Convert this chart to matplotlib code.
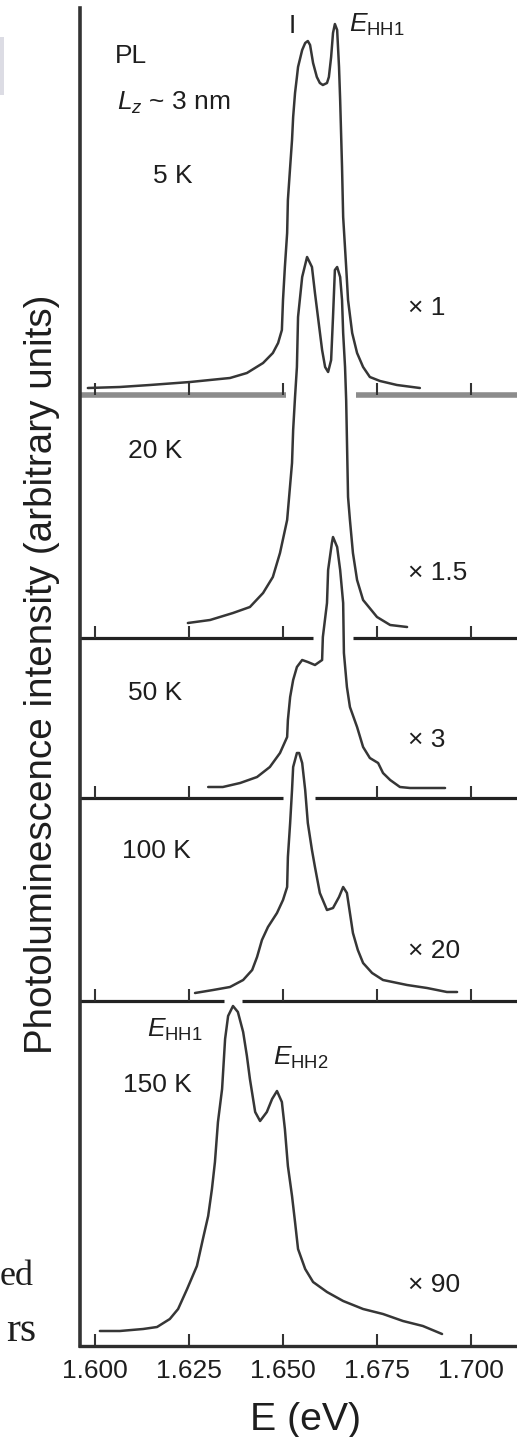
import numpy as np
import matplotlib
matplotlib.use("Agg")
import matplotlib.pyplot as plt
from matplotlib.patches import Rectangle

plt.rcParams['font.family'] = ['Liberation Sans', 'DejaVu Sans']
plt.rcParams['mathtext.fontset'] = 'custom'
plt.rcParams['mathtext.rm'] = 'Liberation Sans'
plt.rcParams['mathtext.it'] = 'Liberation Sans:italic'
plt.rcParams['mathtext.bf'] = 'Liberation Sans:bold'

# ---------------- data (photon energy in eV, PL intensity in arbitrary units) -------------
E_5K = [1.5981, 1.6066, 1.6146, 1.6253, 1.6332, 1.6359, 1.6404, 1.6447, 1.6473, 1.6487,
        1.6497, 1.6500, 1.6505, 1.6511, 1.6513, 1.6519, 1.6524, 1.6527, 1.6532, 1.6537,
        1.6540, 1.6551, 1.6559, 1.6566, 1.6572, 1.6580, 1.6590, 1.6598, 1.6606, 1.6617,
        1.6622, 1.6628, 1.6633, 1.6638, 1.6644, 1.6649, 1.6652, 1.6657, 1.6660, 1.6668,
        1.6673, 1.6684, 1.6697, 1.6713, 1.6731, 1.6758, 1.6803, 1.6864]
I_5K = [7, 8, 10, 13, 16, 17, 22, 32, 42, 52,
        65, 95, 128, 162, 195, 228, 255, 278, 302, 318,
        328, 345, 352, 354, 350, 332, 318, 312, 310, 312,
        318, 338, 362, 371, 365, 328, 295, 228, 178, 128,
        95, 62, 42, 28, 18, 14, 10, 7]

E_20K = [1.6247, 1.6306, 1.6367, 1.6412, 1.6447, 1.6473, 1.6492, 1.6511, 1.6524, 1.6527,
         1.6532, 1.6537, 1.6540, 1.6551, 1.6564, 1.6577, 1.6585, 1.6593, 1.6604, 1.6612,
         1.6620, 1.6628, 1.6633, 1.6638, 1.6644, 1.6652, 1.6657, 1.6660, 1.6665, 1.6668,
         1.6673, 1.6678, 1.6686, 1.6697, 1.6713, 1.6750, 1.6785, 1.6830]
I_20K = [15, 18, 25, 31, 45, 61, 85, 118, 175, 208,
         241, 271, 321, 361, 381, 371, 345, 321, 288, 271,
         266, 278, 321, 368, 371, 361, 338, 305, 271, 238,
         141, 118, 85, 58, 38, 21, 13, 11]

E_50K = [1.6301, 1.6340, 1.6386, 1.6431, 1.6465, 1.6492, 1.6511, 1.6513, 1.6519, 1.6527,
         1.6537, 1.6551, 1.6566, 1.6585, 1.6604, 1.6606, 1.6617, 1.6620, 1.6630, 1.6633,
         1.6644, 1.6652, 1.6660, 1.6662, 1.6670, 1.6678, 1.6697, 1.6713, 1.6731, 1.6753,
         1.6766, 1.6785, 1.6811, 1.6838, 1.6931]
I_50K = [11, 11, 15, 21, 31, 45, 61, 78, 101, 118,
         131, 138, 136, 133, 138, 161, 195, 228, 255, 261,
         251, 228, 195, 145, 111, 91, 71, 51, 40, 35,
         25, 18, 11, 10, 10]

E_100K = [1.6266, 1.6314, 1.6359, 1.6394, 1.6418, 1.6431, 1.6444, 1.6460, 1.6484, 1.6500,
          1.6511, 1.6513, 1.6519, 1.6524, 1.6527, 1.6537, 1.6543, 1.6551, 1.6559, 1.6566,
          1.6577, 1.6585, 1.6598, 1.6617, 1.6633, 1.6649, 1.6660, 1.6670, 1.6678, 1.6686,
          1.6699, 1.6713, 1.6737, 1.6766, 1.6830, 1.6883, 1.6936, 1.6963]
I_100K = [8, 11, 14, 21, 31, 44, 61, 74, 88, 101,
          114, 144, 178, 211, 234, 248, 248, 238, 211, 178,
          151, 134, 108, 91, 93, 104, 114, 108, 88, 68,
          51, 38, 28, 21, 16, 13, 9, 9]

E_150K = [1.6013, 1.6066, 1.6128, 1.6165, 1.6199, 1.6221, 1.6245, 1.6271, 1.6287, 1.6301,
          1.6311, 1.6319, 1.6327, 1.6338, 1.6346, 1.6354, 1.6367, 1.6380, 1.6394, 1.6404,
          1.6412, 1.6426, 1.6439, 1.6457, 1.6471, 1.6484, 1.6497, 1.6505, 1.6513, 1.6524,
          1.6532, 1.6540, 1.6559, 1.6580, 1.6617, 1.6660, 1.6713, 1.6766, 1.6819, 1.6872,
          1.6923]
I_150K = [15, 15, 17, 19, 27, 37, 57, 80, 107, 130,
          157, 184, 224, 257, 307, 330, 340, 334, 314, 290,
          267, 234, 225, 234, 247, 255, 244, 217, 180, 150,
          124, 97, 77, 64, 54, 45, 37, 32, 25, 20,
          12]

temperatures = ["5 K", "20 K", "50 K", "100 K", "150 K"]
scale_labels = ["\u00d7 1", "\u00d7 1.5", "\u00d7 3", "\u00d7 20", "\u00d7 90"]
x_ticks = [1.600, 1.625, 1.650, 1.675, 1.700]
x_tick_labels = ["1.600", "1.625", "1.650", "1.675", "1.700"]

# ---------------- layout ----------------
W, H = 517, 1437
panel_offsets = [951, 708, 548, 345, 0]      # vertical offsets of the stacked spectra
curves = [(E_5K, I_5K), (E_20K, I_20K), (E_50K, I_50K), (E_100K, I_100K), (E_150K, I_150K)]

LINE = '#363636'
TXT = '#1e1e1e'

fig = plt.figure(figsize=(W / 100, H / 100), dpi=100)
ax = fig.add_axes([80 / W, 1 - 1346 / H, (W - 80) / W, (1346 - 8) / H])
x0, x1 = 1.6 - 15 / 3760, 1.7 + 46 / 3760
ax.set_xlim(x0, x1)
ax.set_ylim(0, 1338)
for s in ['top', 'right']:
    ax.spines[s].set_visible(False)
ax.spines['left'].set_linewidth(2.6)
ax.spines['left'].set_color('#333333')
ax.spines['bottom'].set_linewidth(2.4)
ax.spines['bottom'].set_color('#2e2e2e')
ax.set_yticks([])
ax.set_xticks(x_ticks)
ax.set_xticklabels(x_tick_labels)
ax.tick_params(axis='x', direction='in', length=9, width=1.5, colors='#333333',
               labelsize=19, pad=9, labelcolor=TXT)

# spectra
for (E, I), off in zip(curves, panel_offsets):
    ax.plot(E, np.asarray(I) + off, color=LINE, lw=1.8, solid_joinstyle='round',
            solid_capstyle='round', clip_on=False, zorder=3)

# panel baselines (broken where a lower spectrum reaches them) and their ticks
margin = 0.0025
for i in range(4):
    off = panel_offsets[i]
    gaps = []
    for (E, I), off2 in zip(curves[i + 1:], panel_offsets[i + 1:]):
        E = np.asarray(E)
        y = np.asarray(I) + off2
        m = y > off - 10
        if m.any():
            gaps.append((E[m].min() - margin, E[m].max() + margin))
    gaps.sort()
    segs = []
    start = x0
    for a, b in gaps:
        if a > start:
            segs.append((start, a))
        start = max(start, b)
    if start < x1:
        segs.append((start, x1))
    col, lw = ('#8c8c8c', 4.0) if i == 0 else ('#222222', 2.3)
    for a, b in segs:
        ax.plot([a, b], [off, off], color=col, lw=lw, solid_capstyle='butt', zorder=2,
                clip_on=False)
    tks = [t for t in x_ticks if not any(a <= t <= b for a, b in gaps)]
    ax.vlines(tks, off, off + 12, color='#333333', lw=1.5, zorder=2)

# ---------------- text ----------------
def ftxt(px, py, s, **kw):
    kw.setdefault('fontsize', 19)
    kw.setdefault('color', TXT)
    kw.setdefault('va', 'baseline')
    fig.text(px / W, 1 - py / H, s, **kw)

ftxt(115, 63, "PL")
ftxt(117, 110, r"$L_z$ ~ 3 nm")
ftxt(292, 33, "I", ha='center')
ftxt(349, 32, r"$E_{\mathrm{HH1}}$")

temp_pos = [(153, 183), (128, 458), (128, 700), (122, 858), (123, 1092)]
for (px, py), t in zip(temp_pos, temperatures):
    ftxt(px, py, t)

scale_pos = [315, 580, 747, 958, 1292]
for py, s in zip(scale_pos, scale_labels):
    ftxt(408, py, s)

ftxt(147, 1037, r"$E_{\mathrm{HH1}}$")
ftxt(273, 1065, r"$E_{\mathrm{HH2}}$")

ftxt(305, 1430, "E (eV)", ha='center', fontsize=28.3)
fig.text(42 / W, 1 - 674 / H, "Photoluminescence intensity (arbitrary units)",
         rotation=90, ha='center', va='center', fontsize=27.8, color=TXT)

# fragments of surrounding page
ftxt(34, 1285, "ed", ha='right', fontsize=26, family=['Liberation Serif', 'DejaVu Serif'])
ftxt(36, 1341, "rs", ha='right', fontsize=30, family=['Liberation Serif', 'DejaVu Serif'])
fig.patches.append(Rectangle((0, 1 - 95 / H), 4 / W, 58 / H, transform=fig.transFigure,
                             facecolor='#dcdce4', edgecolor='none'))

fig.savefig("out.png", dpi=100)
